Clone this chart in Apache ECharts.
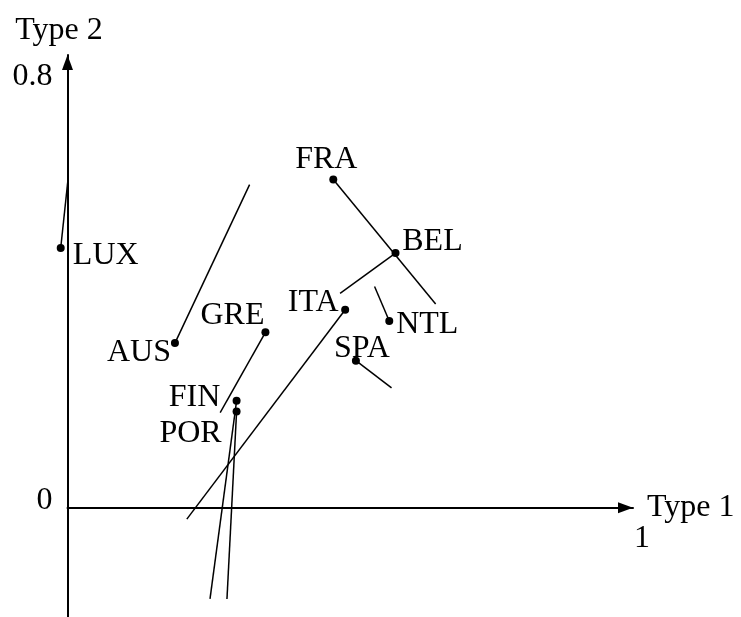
<!DOCTYPE html>
<html>
<head>
<meta charset="utf-8">
<script src="https://cdn.jsdelivr.net/npm/echarts@6/dist/echarts.min.js"></script>
<style>
  html, body { margin: 0; padding: 0; background: #fff; }
  #chart { width: 741px; height: 617px; }
</style>
</head>
<body>
<div id="chart"></div>
<script>
// countries, dot position (start) and end of each segment
const countries = ['LUX', 'AUS', 'GRE', 'FRA', 'BEL', 'ITA', 'NTL', 'SPA', 'FIN', 'POR'];
const startX = [-0.012, 0.190, 0.350, 0.470, 0.580, 0.491, 0.569, 0.510, 0.299, 0.299];
const startY = [0.459, 0.291, 0.310, 0.580, 0.450, 0.350, 0.330, 0.260, 0.189, 0.170];
const endX   = [0.001, 0.322, 0.270, 0.651, 0.482, 0.211, 0.543, 0.573, 0.252, 0.282];
const endY   = [0.581, 0.571, 0.168, 0.360, 0.379, -0.020, 0.391, 0.212, -0.161, -0.161];

const xTickValues = [1];
const xTickLabels = ['1'];
const yTickLabels = ['0', '0.8'];

// label placement around each dot (px)
const labelOffsets = [[45, 8], [-36, 9], [-33, -17], [-7, -20], [37, -12],
                      [-32, -7], [38, 4], [6, -12], [-42, -3], [-46, 22]];

const FONT = 'Liberation Serif';
const chart = echarts.init(document.getElementById('chart'));

const segments = {
    type: 'lines',
    coordinateSystem: 'cartesian2d',
    data: countries.map((c, i) => ({ coords: [[startX[i], startY[i]], [endX[i], endY[i]]] })),
    clip: false,
    silent: true,
    lineStyle: { color: '#000', width: 1.5, opacity: 1, curveness: 0 }
};

const dots = {
    type: 'scatter',
    data: countries.map((c, i) => ({
        name: c,
        value: [startX[i], startY[i]],
        label: { offset: labelOffsets[i] }
    })),
    symbolSize: 8,
    clip: false,
    itemStyle: { color: '#000', opacity: 1 },
    emphasis: { disabled: true },
    label: {
        show: true,
        position: 'inside',
        formatter: '{b}',
        align: 'center',
        verticalAlign: 'middle',
        color: '#000',
        opacity: 1,
        fontFamily: FONT,
        fontSize: 32
    },
    z: 5
};

const arrowLine = {
    onZero: true,
    symbol: ['none', 'triangle'],
    symbolSize: [11, 15],
    symbolOffset: [0, -7.5],
    lineStyle: { color: '#000', width: 2 }
};

chart.setOption({
    animation: false,
    grid: { left: 67.5, right: 108, top: 55, bottom: -4, outerBoundsMode: 'none' },
    xAxis: {
        type: 'value',
        min: 0, max: 1,
        name: 'Type 1',
        nameLocation: 'end',
        nameGap: 14,
        nameMoveOverlap: false,
        nameTextStyle: { color: '#000', fontFamily: FONT, fontSize: 32, padding: [6, 0, 0, 0] },
        axisLine: arrowLine,
        axisTick: { show: false },
        splitLine: { show: false },
        axisLabel: { show: false }
    },
    yAxis: {
        type: 'value',
        min: -0.2, max: 0.8,
        name: 'Type 2',
        nameLocation: 'end',
        nameGap: 8,
        nameMoveOverlap: false,
        nameTextStyle: { color: '#000', fontFamily: FONT, fontSize: 32, padding: [0, 17, 0, 0] },
        axisLine: arrowLine,
        axisTick: { show: false },
        splitLine: { show: false },
        axisLabel: {
            customValues: [0, 0.8],
            showMaxLabel: true,
            hideOverlap: false,
            formatter: v => v === 0 ? '{a|' + yTickLabels[0] + '}' : '{b|' + yTickLabels[1] + '}',
            margin: 15,
            rich: {
                a: { color: '#000', fontFamily: FONT, fontSize: 32, padding: [0, 0, 14, 0] },
                b: { color: '#000', fontFamily: FONT, fontSize: 32, padding: [44, 0, 0, 0] }
            }
        }
    },
    series: [segments, dots]
});

// x tick label sits below-right of the arrow tip, as in the original
const xLabels = xTickValues.map((v, i) => {
    const p = chart.convertToPixel({ gridIndex: 0 }, [v, 0]);
    return {
        type: 'text',
        x: p[0] + 9,
        y: p[1] + 31,
        style: {
            text: xTickLabels[i],
            fill: '#000',
            font: '32px "' + FONT + '"',
            align: 'center',
            verticalAlign: 'middle'
        }
    };
});
chart.setOption({ graphic: xLabels });
</script>
</body>
</html>
